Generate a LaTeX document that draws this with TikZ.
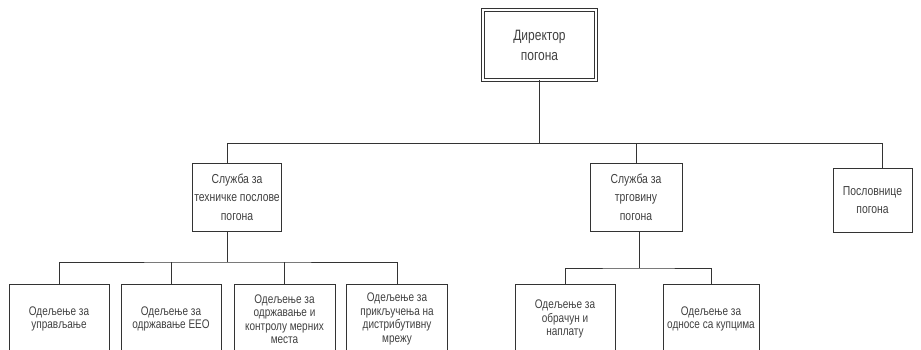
\documentclass[tikz,border=0pt]{standalone}
\usepackage{fontspec}
\setmainfont{Liberation Sans}
\newfontfamily\narrowfont[FakeStretch=0.8]{Liberation Sans}
\usepackage{tikz}
\tikzstyle{headBox}=[shape = rectangle, draw = black!80, double, double distance = 1.6pt, line width = 0.9pt, inner sep = 2pt, align = center, text = black!75, font = \narrowfont\fontsize{15}{20}\selectfont]
\tikzstyle{unitBox}=[shape = rectangle, draw = black!80, line width = 1pt, inner sep = 2pt, align = center, text = black!75, font = \narrowfont\fontsize{13}{18.5}\selectfont]

\begin{document}
\begin{tikzpicture}[x = 1pt, y = -1pt]
\tikzstyle{deptBox}=[shape = rectangle, draw = black!80, line width = 1pt, inner sep = 2pt, align = center, text = black!75, font = \narrowfont\fontsize{12.5}{13.5}\selectfont]
\tikzstyle{link}=[draw = black!80, line width = 1pt]
\useasboundingbox (0,0) rectangle (921,349);
\clip (0,0) rectangle (921,349);
\node[headBox, minimum width = 113pt, minimum height = 70pt] (dir) at (539.5,45) {Директор\\погона};
\node[unitBox, minimum width = 82pt, minimum height = 68pt] (s1) at (237,197) {Служба за\\техничке послове\\погона};
\node[unitBox, minimum width = 92pt, minimum height = 68pt] (s2) at (636,197) {Служба за\\трговину\\погона};
\node[unitBox, minimum width = 79pt, minimum height = 64pt] (s3) at (872.5,200) {Пословнице\\погона};
\node[deptBox, minimum width = 100pt, minimum height = 70pt] (d1) at (59,319) {Одељење за\\управљање};
\node[deptBox, minimum width = 100pt, minimum height = 70pt] (d2) at (171,319) {Одељење за\\одржавање ЕЕО};
\node[deptBox, minimum width = 101pt, minimum height = 70pt] (d3) at (284.5,319) {Одељење за\\одржавање и\\контролу мерних\\места};
\node[deptBox, minimum width = 101pt, minimum height = 70pt] (d4) at (397,319) {Одељење за\\прикључења на\\дистрибутивну\\мрежу};
\node[deptBox, minimum width = 100pt, minimum height = 70pt] (d5) at (565,319) {Одељење за\\обрачун и\\наплату};
\node[deptBox, minimum width = 96pt, minimum height = 70pt] (d6) at (711,319) {Одељење за\\односе са купцима};
\coordinate (t0) at (539.5,143);
\coordinate (t1) at (227,143);
\coordinate (t3) at (882,143);
\coordinate (b1) at (227,262);
\coordinate (b2) at (639,268);
\draw[link] (dir) -- (t0);
\draw[link] (s1.north -| t1) -- (t1) -- (t3) -- (t3 |- s3.north);
\draw[link] (t0 -| s2) -- (s2);
\draw[link] (s1.south -| b1) -- (b1);
\draw[link] (d1) |- (b1) -| (d4);
\draw[link] (d2) -- (d2 |- b1);
\draw[link] (d3) -- (d3 |- b1);
\draw[link] (s2.south -| b2) -- (b2);
\draw[link] (d5) |- (b2) -| (d6);
\end{tikzpicture}
\end{document}
